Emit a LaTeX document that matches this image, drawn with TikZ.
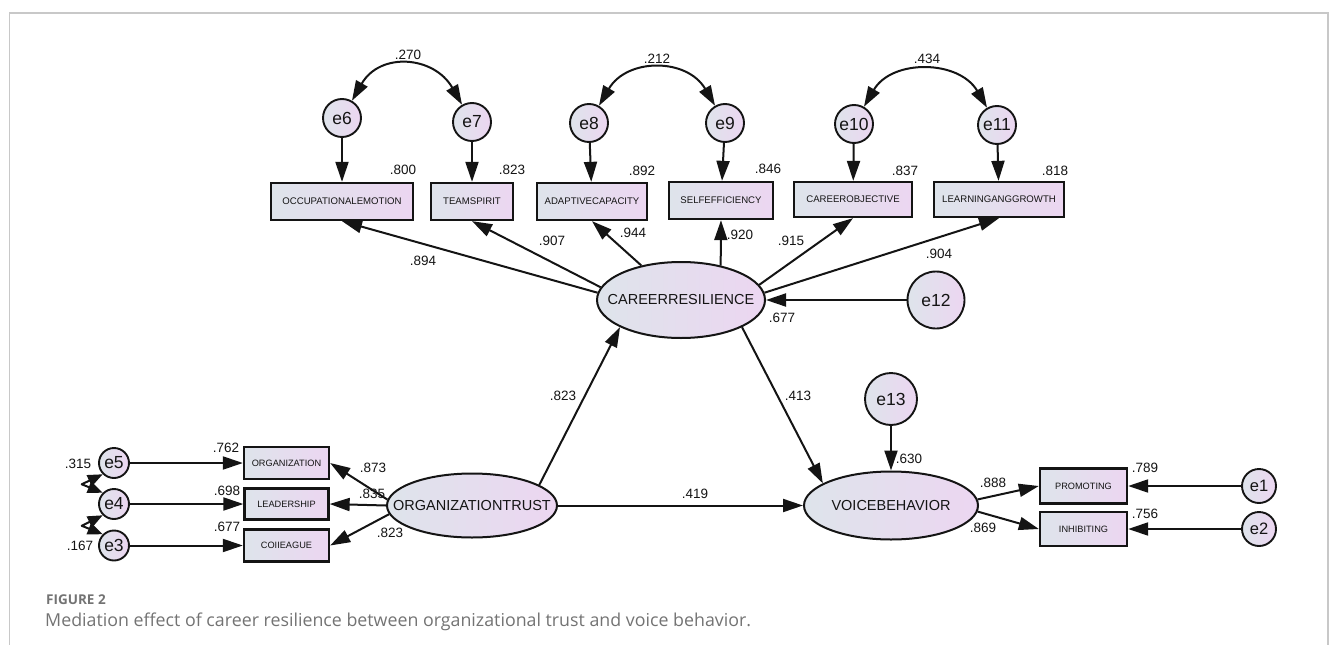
\documentclass[tikz,border=0pt]{standalone}
\usepackage{fontspec}
\setmainfont{Liberation Sans}
\newfontfamily\capfont{Open Sans}
\usetikzlibrary{shapes.geometric,arrows.meta}
\definecolor{gl}{RGB}{222,228,235}
\definecolor{gr}{RGB}{236,214,241}
\definecolor{ink}{RGB}{20,20,20}
\definecolor{framec}{RGB}{200,200,200}
\definecolor{capc}{RGB}{115,115,115}
\tikzset{
  gradfill/.style={left color=gl,right color=gr},
  lat/.style={ellipse,draw=ink,line width=2pt,gradfill,inner sep=0pt},
  lattext/.style={inner sep=0pt,font=\fontsize{14.5}{17}\selectfont,text=ink},
  obs/.style={rectangle,draw=ink,line width=2.3pt,gradfill,inner sep=0pt,font=\fontsize{9.6}{11}\selectfont,text=ink},
  err/.style={circle,draw=ink,line width=1.9pt,gradfill,inner sep=0pt,font=\fontsize{17.5}{20}\selectfont,text=ink},
  num/.style={inner sep=0pt,font=\fontsize{13.5}{16}\selectfont,text=ink},
  arr/.style={-{Triangle[length=20pt,width=13pt]},line width=2pt,draw=ink},
  dbl/.style={{Triangle[length=20pt,width=13pt]}-{Triangle[length=20pt,width=13pt]},line width=2pt,draw=ink},
  dbls/.style={{Triangle[length=15pt,width=12pt]}-{Triangle[length=15pt,width=12pt]},line width=2pt,draw=ink,line join=round},
}
\begin{document}
\begin{tikzpicture}[x=1pt,y=-1pt]
\useasboundingbox (0,0) rectangle (1333,645);
% frame
\draw[framec,line width=1.3pt] (9.5,645) -- (9.5,13) -- (1328,13) -- (1328,645);

% top error terms
\node[err,minimum size=38pt] (e6) at (342,118) {e6};
\node[err,minimum size=38pt] (e7) at (472,122) {e7};
\node[err,minimum size=38pt] (e8) at (589,123) {e8};
\node[err,minimum size=38pt] (e9) at (725,123) {e9};
\node[err,minimum size=38pt] (e10) at (854,124) {e10};
\node[err,minimum size=38pt] (e11) at (997,125) {e11};

% top indicators
\node[obs,minimum width=142pt,minimum height=37pt] (OE) at (342,201.5) {OCCUPATIONALEMOTION};
\node[obs,minimum width=82pt,minimum height=37pt] (TS) at (472,201.5) {TEAMSPIRIT};
\node[obs,minimum width=110pt,minimum height=37pt] (AC) at (592,201.5) {ADAPTIVECAPACITY};
\node[obs,minimum width=104pt,minimum height=37pt] (SE) at (721,200.5) {SELFEFFICIENCY};
\node[obs,minimum width=118pt,minimum height=35pt] (CO) at (853,199.5) {CAREEROBJECTIVE};
\node[obs,minimum width=130pt,minimum height=35pt] (LG) at (999,199.5) {LEARNINGANGGROWTH};

% latent variables
\node[lat,minimum width=168pt,minimum height=76pt] (CR) at (681,300) {};
\node[lattext] (CRt) at (CR.center) {CAREERRESILIENCE};
\node[lat,minimum width=170pt,minimum height=64pt] (OT) at (472,505.5) {};
\node[lattext] (OTt) at (OT.center) {ORGANIZATIONTRUST};
\node[lat,minimum width=174pt,minimum height=68pt] (VB) at (891,505.5) {};
\node[lattext] (VBt) at (VB.center) {VOICEBEHAVIOR};

\node[err,minimum size=57pt] (e12) at (936,300) {e12};
\node[err,minimum size=52pt] (e13) at (891,399) {e13};

% left indicators
\node[obs,minimum width=85pt,minimum height=32pt,font=\fontsize{9.2}{11}\selectfont] (ORG) at (286.5,463) {ORGANIZATION};
\node[obs,minimum width=84pt,minimum height=31pt,font=\fontsize{9.2}{11}\selectfont] (LEAD) at (286.5,504) {LEADERSHIP};
\node[obs,minimum width=85pt,minimum height=32pt,font=\fontsize{9.2}{11}\selectfont] (COL) at (286.5,545.5) {COIIEAGUE};
\node[err,minimum size=30pt] (e5) at (114,463) {e5};
\node[err,minimum size=30pt] (e4) at (114,504) {e4};
\node[err,minimum size=30pt] (e3) at (114,545.5) {e3};

% right indicators
\node[obs,minimum width=87pt,minimum height=35pt,font=\fontsize{9.2}{11}\selectfont] (PROM) at (1083.5,486) {PROMOTING};
\node[obs,minimum width=87pt,minimum height=34pt,font=\fontsize{9.2}{11}\selectfont] (INH) at (1083.5,529) {INHIBITING};
\node[err,minimum size=34pt,font=\fontsize{16.5}{20}\selectfont] (e1) at (1259,486) {e1};
\node[err,minimum size=34pt,font=\fontsize{16.5}{20}\selectfont] (e2) at (1259,529) {e2};

% error -> indicator arrows
\draw[arr] (e6) -- (OE);
\draw[arr] (e7) -- (TS);
\draw[arr] (e8) -- (AC);
\draw[arr] (e9) -- (SE);
\draw[arr] (e10) -- (CO);
\draw[arr] (e11) -- (LG);
\draw[arr] (e5) -- (ORG);
\draw[arr] (e4) -- (LEAD);
\draw[arr] (e3) -- (COL);
\draw[arr] (e1) -- (PROM);
\draw[arr] (e2) -- (INH);

% loadings
\draw[arr] (CR.175) -- (OE.south);
\draw[arr] (CR.171) -- (TS.south);
\draw[arr] (CR.139) -- (AC.south);
\draw[arr] (CR.41) -- (SE.south);
\draw[arr] (CR.11) -- (CO.south);
\draw[arr] (CR.5) -- (LG.south);
\draw[arr] (OT.176) -- (ORG.east);
\draw[arr] (OT.west) -- (LEAD.east);
\draw[arr] (OT.186) -- (COL.east);
\draw[arr] (VB.4) -- (PROM.west);
\draw[arr] (VB.-4) -- (INH.west);

% structural paths
\draw[arr] (e12) -- (CR);
\draw[arr] (e13) -- (VB);
\draw[arr] (OT.17) -- (CR.204);
\draw[arr] (CR.-24) -- (VB.162);
\draw[arr] (OT) -- (VB);

% covariances
\draw[dbl] (e6.60) .. controls +(28,-49) and +(-28,-49) .. (e7.120);
\draw[dbl] (e8.60) .. controls +(28,-48) and +(-28,-48) .. (e9.120);
\draw[dbl] (e10.60) .. controls +(28,-48) and +(-28,-48) .. (e11.120);
\draw[dbls] (e5.225) -- ++(-21,10) -- (e4.135);
\draw[dbls] (e4.225) -- ++(-21,10.5) -- (e3.135);

% numbers
\node[num] (l270) at (408,55) {.270};
\node[num] (l212) at (657,59) {.212};
\node[num] (l434) at (927,59) {.434};
\node[num] (l800) at (403,170) {.800};
\node[num] (l823a) at (512,170) {.823};
\node[num] (l892) at (642,171) {.892};
\node[num] (l846) at (768,169) {.846};
\node[num] (l837) at (905,171) {.837};
\node[num] (l818) at (1055,171) {.818};
\node[num] (l894) at (423,261) {.894};
\node[num] (l907) at (552,241) {.907};
\node[num] (l944) at (633,233) {.944};
\node[num] (l920) at (740,235) {.920};
\node[num] (l915) at (791,241) {.915};
\node[num] (l904) at (939,254) {.904};
\node[num] (l677a) at (782,318) {.677};
\node[num] (l823b) at (563,396) {.823};
\node[num] (l413) at (798,396) {.413};
\node[num] (l419) at (695,494) {.419};
\node[num] (l630) at (909,459) {.630};
\node[num] (l762) at (226,448) {.762};
\node[num] (l698) at (227,491) {.698};
\node[num] (l677b) at (227,527) {.677};
\node[num] (l873) at (373,468) {.873};
\node[num] (l835) at (372,494) {.835};
\node[num] (l823c) at (390,533) {.823};
\node[num] (l315) at (78,464) {.315};
\node[num] (l167) at (80,546) {.167};
\node[num] (l888) at (993,483) {.888};
\node[num] (l869) at (983,528) {.869};
\node[num] (l789) at (1145,468) {.789};
\node[num] (l756) at (1145,514) {.756};

% caption
\node[anchor=west,inner sep=0pt,text=capc,font=\capfont\bfseries\fontsize{13.5}{16}\selectfont] (fig) at (46,600) {FIGURE 2};
\node[anchor=west,inner sep=0pt,text=capc,font=\capfont\fontsize{17.8}{21}\selectfont] (cap) at (45,622) {Mediation effect of career resilience between organizational trust and voice behavior.};
\end{tikzpicture}
\end{document}
